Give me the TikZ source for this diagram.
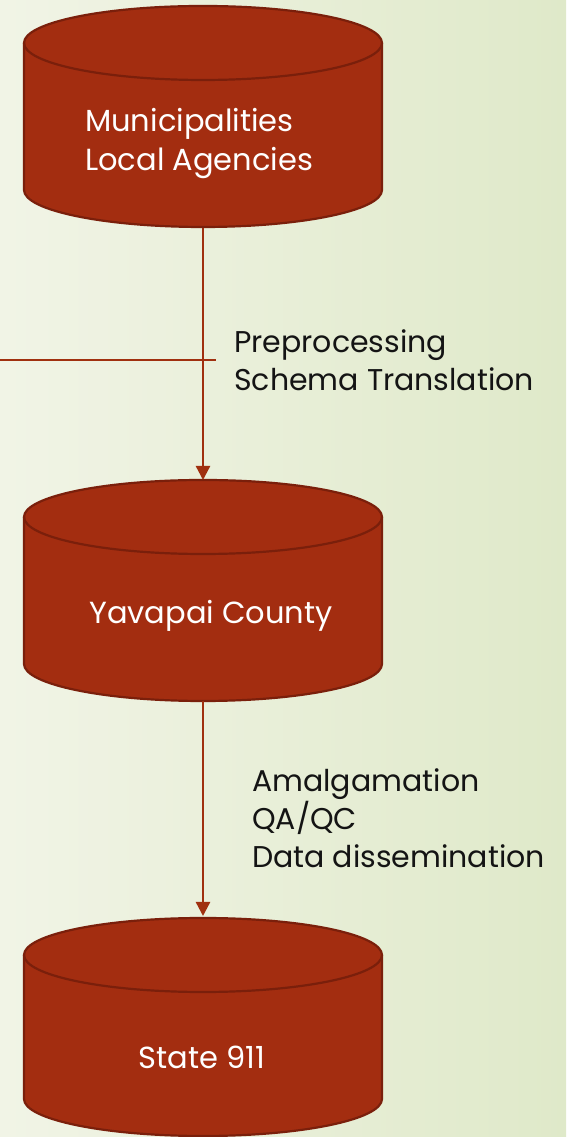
\documentclass[tikz,border=0pt]{standalone}
\usepackage{fontspec}
\setmainfont{Poppins}
\usetikzlibrary{arrows.meta}
\definecolor{bgL}{HTML}{F1F4E6}
\definecolor{bgR}{HTML}{DFE9C9}
\definecolor{cylfill}{HTML}{A32D10}
\definecolor{cylline}{HTML}{7A1F0B}
\definecolor{linkcol}{HTML}{A0300F}
\definecolor{txt}{HTML}{141414}
\tikzset{
  cylbody/.style={fill=cylfill, draw=cylline, line width=2.2pt},
  cyltext/.style={text=white, font=\fontsize{30.5}{39}\selectfont, align=left, inner sep=0pt},
  lbl/.style={text=txt, font=\fontsize{30}{38}\selectfont, align=left, inner sep=0pt},
  link/.style={draw=linkcol, line width=2.4pt},
  arrowlink/.style={link, -{Triangle[width=14pt,length=14pt]}}
}
\newcommand{\dbcyl}[2]{% #1 top centre y, #2 bottom centre y
  \path[cylbody] (24,#1) -- (24,#2) arc[start angle=180, end angle=360, x radius=179, y radius=37] -- (382,#1) arc[start angle=0, end angle=180, x radius=179, y radius=37] -- cycle;
  \draw[cylline, line width=2.2pt] (24,#1) arc[start angle=180, end angle=360, x radius=179, y radius=37];
}
\begin{document}
\begin{tikzpicture}[x=1pt,y=1pt]
\useasboundingbox (0,0) rectangle (566,1137);
\shade[left color=bgL, right color=bgR] (0,0) rectangle (566,1137);
% cylinders
\dbcyl{1094}{947}
\dbcyl{620}{473}
\dbcyl{182}{38}
\coordinate (c1b) at (203,909);
\coordinate (c2t) at (203,657);
\coordinate (c2b) at (203,436);
\coordinate (c3t) at (203,221);
\coordinate (hl) at (0,777);
\coordinate (hr) at (216,777);
% texts (base anchor = last line baseline)
\node[cyltext, anchor=base west] (muni) at (85,966) {Municipalities\\Local Agencies};
\node[cyltext, anchor=base] (yava) at (211,513) {Yavapai County};
\node[cyltext, anchor=base] (state) at (202,68) {State 911};
\node[lbl, anchor=base west] (pre) at (234,746) {Preprocessing\\Schema Translation};
\node[lbl, anchor=base west] (amal) at (252,269) {Amalgamation\\QA/QC\\Data dissemination};
% connectors
\draw[arrowlink] (c1b) -- (c2t);
\draw[arrowlink] (c2b) -- (c3t);
\draw[link] (hl) -- (hr);
\end{tikzpicture}
\end{document}
